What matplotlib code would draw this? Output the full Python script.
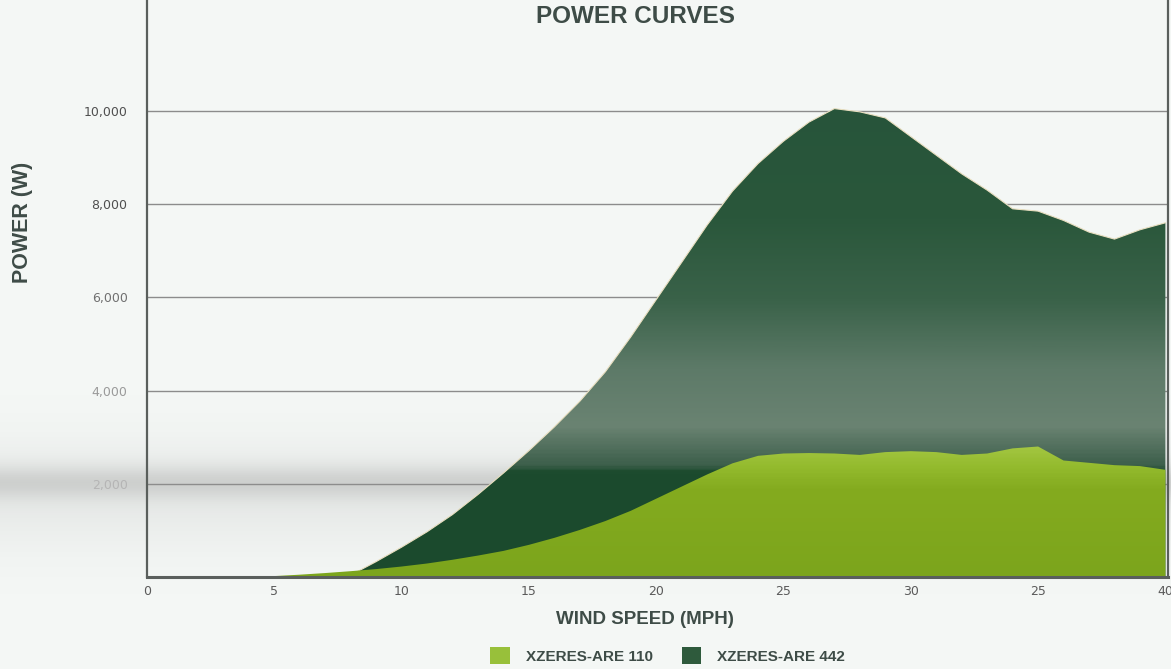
import numpy as np
import matplotlib.pyplot as plt
from matplotlib.colors import LinearSegmentedColormap
from matplotlib.patches import Patch

# datos
velocidad = [0, 5, 6, 7, 8, 9, 10, 11, 12, 13, 14, 15, 16, 17, 18, 19, 20,
             21, 22, 23, 24, 25, 26, 27, 28, 29, 30, 31, 32, 33, 34, 35, 36,
             37, 38, 39, 40]
potencia_110 = [0, 20, 50, 85, 125, 170, 225, 290, 370, 460, 560, 690, 840,
                1010, 1200, 1420, 1680, 1940, 2200, 2440, 2600, 2650, 2660,
                2650, 2620, 2680, 2700, 2680, 2620, 2650, 2760, 2800, 2500,
                2450, 2400, 2380, 2300]
potencia_442 = [0, 0, 0, 0, 40, 330, 640, 970, 1340, 1770, 2230, 2710, 3220,
                3770, 4400, 5150, 5950, 6750, 7550, 8280, 8870, 9350, 9760,
                10050, 9980, 9850, 9450, 9050, 8650, 8300, 7900, 7850, 7650,
                7400, 7250, 7450, 7600]
ticks_x = [0, 5, 10, 15, 20, 25, 30, 35, 40]
etiquetas_x = ['0', '5', '10', '15', '20', '25', '30', '25', '40']
ticks_y = [2000, 4000, 6000, 8000, 10000]
etiquetas_y = ['2,000', '4,000', '6,000', '8,000', '10,000']
nombres = ['XZERES-ARE 110', 'XZERES-ARE 442']

fondo = '#f4f7f5'
texto = '#3e4c47'

fig = plt.figure(figsize=(11.71, 6.69), dpi=100, facecolor=fondo)

# banda gris del fondo (reflejo de la foto)
bg = fig.add_axes([0, 0, 1, 1], zorder=-5)
bg.axis('off')
perfil = np.ones((300, 1, 4))
yy = np.linspace(1, 0, 300)
oscuro = np.exp(-((yy - 0.278) / 0.025) ** 2) * 0.5 + np.exp(-((yy - 0.26) / 0.08) ** 2) * 0.25
perfil[:, 0, 0:3] = 0.55
perfil[:, 0, 3] = np.clip(oscuro, 0, 1) * 0.5
bg.imshow(perfil, extent=[0, 1, 0, 1], aspect='auto', transform=bg.transAxes)
bg.set_xlim(0, 1)
bg.set_ylim(0, 1)

ax = fig.add_axes([0.1255, 0.1375, 0.8719, 0.8625])
ax.patch.set_alpha(0)
ax.set_xlim(0, 40.1)
ax.set_ylim(0, 12380)

for t in ticks_y:
    ax.axhline(t, color='#8c8c8c', lw=1.0, zorder=1)

# --- área del 442 con degradado ---
area442 = ax.fill_between(velocidad, potencia_442, color='none', zorder=2)
cmap442 = LinearSegmentedColormap.from_list('c442', [
    (0.0, '#1b4a2d'), (0.18, '#1c4b2e'), (0.192, '#3d5f4b'),
    (0.26, '#6a8372'), (0.36, '#5d7a68'), (0.48, '#3a6249'),
    (0.62, '#2a573b'), (1.0, '#24523a')])
grad = np.linspace(0, 1, 400).reshape(-1, 1)
im = ax.imshow(grad, cmap=cmap442, origin='lower', aspect='auto',
               extent=[0, 40.1, 0, 12380], zorder=2)
im.set_clip_path(area442.get_paths()[0], transform=ax.transData)
ax.plot(velocidad, potencia_442, color='#e9dfc0', lw=0.8, zorder=2.5)

# --- área del 110 con degradado ---
area110 = ax.fill_between(velocidad, potencia_110, color='none', zorder=3)
cmap110 = LinearSegmentedColormap.from_list('c110', [
    (0.0, '#7ca51c'), (0.15, '#84ab1f'), (0.19, '#94bb2e'),
    (0.23, '#a6c845'), (1.0, '#a6c845')])
im2 = ax.imshow(grad, cmap=cmap110, origin='lower', aspect='auto',
                extent=[0, 40.1, 0, 12380], zorder=3)
im2.set_clip_path(area110.get_paths()[0], transform=ax.transData)

# ejes
for lado in ['left', 'right', 'bottom']:
    ax.spines[lado].set_color('#5a5f5c')
ax.spines['left'].set_linewidth(1.6)
ax.spines['right'].set_linewidth(1.6)
ax.spines['bottom'].set_linewidth(2.2)
ax.spines['top'].set_visible(False)
for s in ax.spines.values():
    s.set_zorder(5)

ax.set_xticks(ticks_x)
ax.set_xticklabels(etiquetas_x, fontsize=9, color='#5a5a5a', family='DejaVu Sans')
ax.set_yticks(ticks_y)
ax.set_yticklabels(etiquetas_y, fontsize=9, color='#555555', family='DejaVu Sans')
colores_y = ['#b5b5b5', '#9a9a9a', '#707070', '#4f4f4f', '#4f4f4f']
for lab, c in zip(ax.get_yticklabels(), colores_y):
    lab.set_color(c)
ax.tick_params(axis='x', length=0, pad=6)
ax.tick_params(axis='y', length=0, pad=14)

fig.text(0.543, 0.975, 'POWER CURVES', ha='center', va='center',
         fontsize=17.5, fontweight='bold', color=texto, family='Liberation Sans')
fig.text(0.551, 0.074, 'WIND SPEED (MPH)', ha='center', va='center',
         fontsize=13.5, fontweight='bold', color=texto, family='Liberation Sans')
fig.text(0.019, 0.667, 'POWER (W)', ha='center', va='center', rotation=90,
         fontsize=15.5, fontweight='bold', color=texto, family='Liberation Sans')

manejadores = [Patch(facecolor='#98c03a', edgecolor='none'),
               Patch(facecolor='#2e5a3c', edgecolor='none')]
fig.legend(manejadores, nombres, loc='center', bbox_to_anchor=(0.57, 0.02),
           ncol=2, frameon=False, handlelength=1.3, handleheight=1.3,
           handletextpad=1.0, columnspacing=1.9,
           prop={'family': 'Liberation Sans', 'weight': 'bold', 'size': 11},
           labelcolor=texto)

fig.savefig('out.png', dpi=100, facecolor=fondo)
